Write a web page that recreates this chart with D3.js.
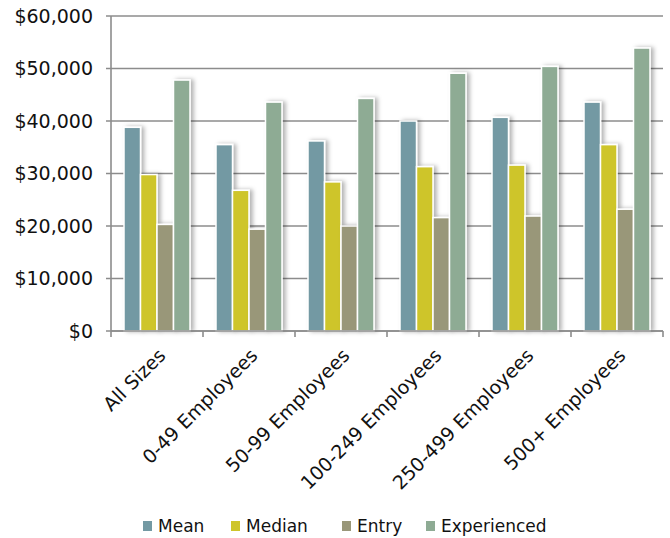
<!DOCTYPE html>
<html>
<head>
<meta charset="utf-8">
<script src="https://cdn.jsdelivr.net/npm/d3@7"></script>
<style>
  html, body { margin: 0; padding: 0; background: #fff; }
  svg { display: block; font-family: "DejaVu Sans", sans-serif; }
</style>
</head>
<body>
<svg id="chart" width="670" height="538"></svg>
<script>
const categories = ["All Sizes", "0-49 Employees", "50-99 Employees", "100-249 Employees", "250-499 Employees", "500+ Employees"];
const seriesNames = ["Mean", "Median", "Entry", "Experienced"];
const meanValues = [38800, 35500, 36200, 40000, 40700, 43600];
const medianValues = [29800, 26800, 28400, 31300, 31600, 35500];
const entryValues = [20300, 19400, 20000, 21600, 21900, 23200];
const experiencedValues = [47800, 43600, 44300, 49100, 50400, 53900];
const yTicks = [0, 10000, 20000, 30000, 40000, 50000, 60000];
const colors = ["#7399a3", "#cec52a", "#999779", "#8eab94"];

const seriesValues = [meanValues, medianValues, entryValues, experiencedValues];

const svg = d3.select("#chart");
const mLeft = 111, mRight = 663, mTop = 16, mBottom = 331;

const defs = svg.append("defs");
const f = defs.append("filter").attr("id", "shadow").attr("x", "-30%").attr("y", "-10%").attr("width", "180%").attr("height", "120%");
f.append("feDropShadow").attr("dx", 3).attr("dy", 0).attr("stdDeviation", 2).attr("flood-color", "#000").attr("flood-opacity", 0.3);

const x = d3.scaleBand().domain(categories).range([mLeft, mRight]).paddingInner(0).paddingOuter(0);
const x1 = d3.scaleBand().domain(seriesNames).range([13, x.bandwidth() - 13]).padding(0);
const y = d3.scaleLinear().domain([0, 60000]).range([mBottom, mTop]);

// gridlines
svg.append("g").selectAll("line").data(yTicks).join("line")
  .attr("x1", mLeft - 5).attr("x2", mRight)
  .attr("y1", d => y(d)).attr("y2", d => y(d))
  .attr("stroke", "#8c8c8c").attr("stroke-width", 1.6);

// y axis labels
const yAxis = d3.axisLeft(y).tickValues(yTicks).tickSize(0).tickPadding(18)
  .tickFormat(d => "$" + d3.format(",")(d));
const gy = svg.append("g").attr("transform", `translate(${mLeft},0)`).call(yAxis);
gy.select(".domain").remove();
gy.selectAll("text").attr("font-size", 19).attr("fill", "#111").attr("font-family", "DejaVu Sans, sans-serif");

// bars
const groups = svg.append("g").selectAll("g").data(categories).join("g")
  .attr("transform", d => `translate(${x(d)},0)`);
groups.selectAll("rect").data((c, i) => seriesNames.map((s, j) => ({ s, j, v: seriesValues[j][i] })))
  .join("rect")
  .attr("x", d => x1(d.s))
  .attr("width", x1.bandwidth())
  .attr("y", d => y(d.v))
  .attr("height", d => y(0) - y(d.v))
  .attr("fill", d => colors[d.j])
  .attr("stroke", "#fff").attr("stroke-width", 1.5)
  .attr("filter", "url(#shadow)");

// left axis line
svg.append("line").attr("x1", mLeft).attr("x2", mLeft).attr("y1", mTop).attr("y2", mBottom)
  .attr("stroke", "#8c8c8c").attr("stroke-width", 1.6);

// bottom axis with ticks at category boundaries
svg.append("line").attr("x1", mLeft).attr("x2", mRight).attr("y1", mBottom).attr("y2", mBottom)
  .attr("stroke", "#8c8c8c").attr("stroke-width", 1.6);
const boundaries = categories.map(c => x(c)).concat([mRight]);
svg.append("g").selectAll("line").data(boundaries).join("line")
  .attr("x1", d => d).attr("x2", d => d).attr("y1", mBottom).attr("y2", mBottom + 6)
  .attr("stroke", "#8c8c8c").attr("stroke-width", 1.6);

// x labels rotated
svg.append("g").selectAll("text").data(categories).join("text")
  .attr("transform", d => `translate(${x(d) + x.bandwidth() / 2 + 5},${mBottom + 21}) rotate(-45)`)
  .attr("text-anchor", "end")
  .attr("dy", "0.35em")
  .attr("font-size", 19)
  .attr("fill", "#111")
  .text(d => d);

// legend
const legendX = [143, 231, 342, 426];
const lg = svg.append("g").selectAll("g").data(seriesNames).join("g")
  .attr("transform", (d, i) => `translate(${legendX[i]},521)`);
lg.append("rect").attr("width", 9).attr("height", 10).attr("fill", (d, i) => colors[i]);
lg.append("text").attr("x", 15).attr("y", 10.5).attr("font-size", 17).attr("fill", "#111").text(d => d);
</script>
</body>
</html>
